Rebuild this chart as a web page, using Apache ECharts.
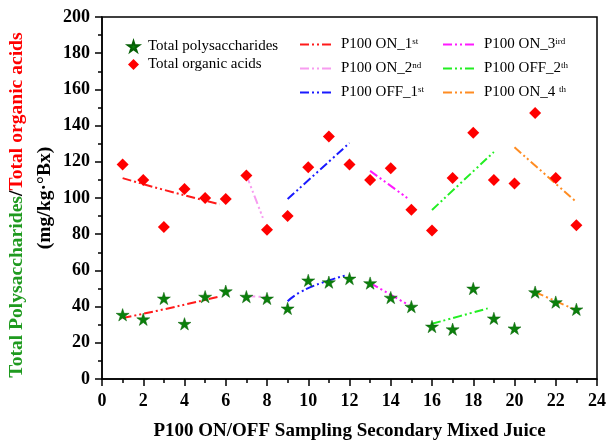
<!DOCTYPE html>
<html>
<head>
<meta charset="utf-8">
<script src="https://cdn.jsdelivr.net/npm/echarts@6/dist/echarts.min.js"></script>
<style>
  html, body { margin: 0; padding: 0; background: #fff; }
  #chart { width: 606px; height: 446px; }
</style>
</head>
<body>
<div id="chart"></div>
<script>
// sample numbers 1..23
const samples = [1, 2, 3, 4, 5, 6, 7, 8, 9, 10, 11, 12, 13, 14, 15, 16, 17, 18, 19, 20, 21, 22, 23]
const polysaccharides = [35.5, 33, 44.5, 30.5, 45.5, 48.5, 45.5, 44.5, 39, 54.5, 53.5, 55.5, 53, 45, 40, 29, 27.5, 50, 33.5, 28, 48, 42.5, 38.5]
const organicAcids = [118.5, 110, 84, 105, 100, 99.5, 112.5, 82.5, 90, 117, 134, 118.5, 110, 116.5, 93.5, 82, 111, 136, 110, 108, 147, 111, 85]

// trend lines, [x, y]
const on1Acid = [[1, 111], [3, 104.5], [5.7, 96.5]]
const on1Poly = [[1, 33.7], [3, 38.5], [5.6, 45.3]]
const on2Acid = [[7, 112.7], [7.8, 89]]
const on2Poly = [[7, 45.8], [8, 45.3]]
const off1Acid = [[9, 99.4], [12, 130.4]]
const off1Poly = [[9, 43], [9.6, 47.9], [10.6, 52.9], [11.9, 57.5]]
const on3Acid = [[13, 115], [14.8, 100]]
const on3Poly = [[13, 53], [15, 40]]
const off2Acid = [[16, 93.4], [19, 125.4]]
const off2Poly = [[16, 30.5], [18.7, 39]]
const on4Acid = [[20, 128], [23, 97.8]]
const on4Poly = [[21, 48], [23, 38]]

const xTicks = { min: 0, max: 24, interval: 2 }
const yTicks = { min: 0, max: 200, interval: 20 }

const supMap = {
  'P100 ON_1st': ['P100 ON_1', 'st'],
  'P100 ON_2nd': ['P100 ON_2', 'nd'],
  'P100 OFF_1st': ['P100 OFF_1', 'st'],
  'P100 ON_3ird': ['P100 ON_3', 'ird'],
  'P100 OFF_2th': ['P100 OFF_2', 'th'],
  'P100 ON_4 th': ['P100 ON_4 ', 'th']
}

const starPath = 'path://M50,0 L61,35 L98,35 L68,57 L79,91 L50,70 L21,91 L32,57 L2,35 L39,35 Z'
const font = 'Liberation Serif'
const dashDot = [9, 3, 2, 3, 2, 3]

function trend(name, color, data) {
  return {
    name: name,
    type: 'line',
    data: data,
    symbol: 'none',
    smooth: true,
    z: 2,
    lineStyle: { color: color, width: 2, type: dashDot },
    itemStyle: { color: color }
  }
}

function legendText(padLeft) {
  return {
    fontFamily: font,
    fontSize: 15,
    color: '#000',
    padding: [0, 0, 0, padLeft],
    rich: {
      s: { fontFamily: font, fontSize: 9, verticalAlign: 'top', padding: [0, 0, 6, 0] }
    }
  }
}

function fmt(name) {
  const m = supMap[name]
  return m ? m[0] + '{s|' + m[1] + '}' : name
}

const tickLine = { color: '#000', width: 1.5 }
const tickFont = { fontFamily: font, fontSize: 18, fontWeight: 'bold', color: '#000' }
const nameFont = { fontFamily: font, fontSize: 19.6, fontWeight: 'bold', lineHeight: 28 }

const chart = echarts.init(document.getElementById('chart'))
chart.setOption({
  animation: false,
  grid: {
    left: 102, top: 17, right: 9, bottom: 67,
    outerBoundsMode: 'none',
    show: true, borderColor: '#000', borderWidth: 1.5
  },
  legend: [
    {
      data: [
        { name: 'Total polysaccharides', icon: starPath },
        { name: 'Total organic acids', icon: 'diamond' }
      ],
      orient: 'vertical', left: 127, top: 39, padding: 0,
      itemWidth: 11, itemHeight: 11, itemGap: 3,
      textStyle: legendText(4), formatter: fmt
    },
    {
      data: ['P100 ON_1st', 'P100 ON_2nd', 'P100 OFF_1st'],
      orient: 'vertical', left: 299, top: 37, padding: 0,
      itemWidth: 33, itemHeight: 14, itemGap: 9,
      itemStyle: { opacity: 0 },
      textStyle: legendText(3), formatter: fmt
    },
    {
      data: ['P100 ON_3ird', 'P100 OFF_2th', 'P100 ON_4 th'],
      orient: 'vertical', left: 442, top: 37, padding: 0,
      itemWidth: 33, itemHeight: 14, itemGap: 9,
      itemStyle: { opacity: 0 },
      textStyle: legendText(3), formatter: fmt
    }
  ],
  xAxis: {
    type: 'value',
    min: xTicks.min, max: xTicks.max, interval: xTicks.interval,
    name: 'P100 ON/OFF Sampling Secondary Mixed Juice',
    nameLocation: 'middle', nameGap: 43, nameMoveOverlap: false,
    nameTextStyle: { fontFamily: font, fontSize: 19, fontWeight: 'bold', color: '#000' },
    axisLine: { lineStyle: tickLine },
    axisTick: { length: 7, lineStyle: tickLine },
    minorTick: { show: true, splitNumber: 2, length: 4, lineStyle: tickLine },
    axisLabel: Object.assign({ margin: 13 }, tickFont),
    splitLine: { show: false }
  },
  yAxis: {
    type: 'value',
    min: yTicks.min, max: yTicks.max, interval: yTicks.interval,
    name: '{g|Total Polysaccharides}{k|/}{r|Total organic acids}\n{k|(mg/kg·°Bx)}',
    nameLocation: 'middle', nameRotate: 90, nameGap: 43, nameMoveOverlap: false,
    nameTextStyle: Object.assign({
      rich: {
        g: Object.assign({ color: '#1f9a1f' }, nameFont),
        r: Object.assign({ color: '#ff0000', padding: [0, 14, 0, 0] }, nameFont),
        k: Object.assign({ color: '#000' }, nameFont)
      }
    }, nameFont),
    axisLine: { show: true, lineStyle: tickLine },
    axisTick: { length: 7, lineStyle: tickLine },
    minorTick: { show: true, splitNumber: 2, length: 4, lineStyle: tickLine },
    axisLabel: Object.assign({ margin: 12 }, tickFont),
    splitLine: { show: false }
  },
  series: [
    trend('P100 ON_1st', '#ff1a1a', on1Acid),
    trend('P100 ON_1st', '#ff1a1a', on1Poly),
    trend('P100 ON_2nd', '#f79cf0', on2Acid),
    trend('P100 ON_2nd', '#f79cf0', on2Poly),
    trend('P100 OFF_1st', '#1a1aff', off1Acid),
    trend('P100 OFF_1st', '#1a1aff', off1Poly),
    trend('P100 ON_3ird', '#ff1aff', on3Acid),
    trend('P100 ON_3ird', '#ff1aff', on3Poly),
    trend('P100 OFF_2th', '#22ee22', off2Acid),
    trend('P100 OFF_2th', '#22ee22', off2Poly),
    trend('P100 ON_4 th', '#ff8c22', on4Acid),
    trend('P100 ON_4 th', '#ff8c22', on4Poly),
    {
      name: 'Total polysaccharides',
      type: 'scatter',
      symbol: starPath,
      symbolSize: 13,
      symbolKeepAspect: true,
      z: 5,
      itemStyle: { color: '#0b800b', borderColor: '#066006', borderWidth: 0.5, opacity: 1 },
      data: samples.map((x, i) => [x, polysaccharides[i]])
    },
    {
      name: 'Total organic acids',
      type: 'scatter',
      symbol: 'diamond',
      symbolSize: 12,
      z: 5,
      itemStyle: { color: '#ff0000', opacity: 1 },
      data: samples.map((x, i) => [x, organicAcids[i]])
    }
  ]
})
</script>
</body>
</html>
